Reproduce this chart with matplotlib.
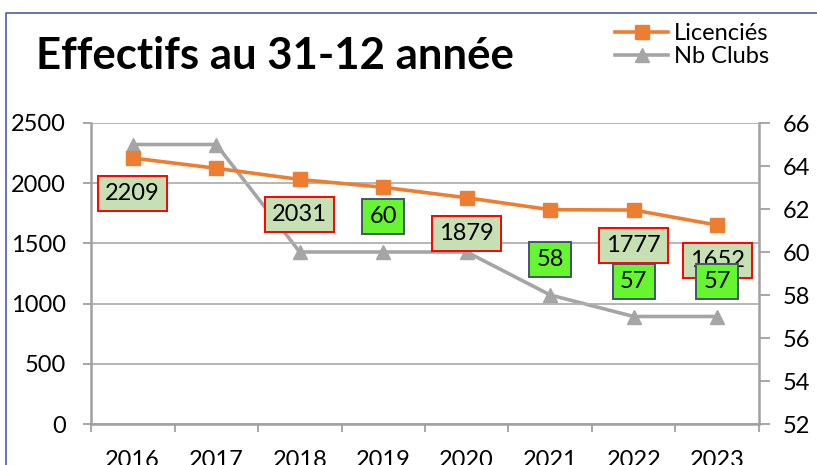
import matplotlib
matplotlib.use("Agg")
import matplotlib.pyplot as plt
from matplotlib.lines import Line2D
import numpy as np

years = ["2016", "2017", "2018", "2019", "2020", "2021", "2022", "2023"]
licencies = [2209, 2124, 2031, 1966, 1879, 1780, 1777, 1652]
clubs = [65, 65, 60, 60, 60, 58, 57, 57]
lic_label_idx = [0, 2, 4, 6, 7]
club_label_idx = [3, 5, 6, 7]
left_ticks = [0, 500, 1000, 1500, 2000, 2500]
right_ticks = [52, 54, 56, 58, 60, 62, 64, 66]

FONT = "Lato"
plt.rcParams["font.family"] = [FONT, "DejaVu Sans"]

ORANGE = "#ED7D31"
GRAY = "#A5A5A5"
AXC = "#A0A0A0"

W, H = 817, 465
fig = plt.figure(figsize=(W / 100, H / 100), dpi=100)
ax = fig.add_axes([91 / W, 1 - 424 / H, (759 - 91) / W, (424 - 123) / H])
ax2 = ax.twinx()
ax.set_zorder(ax2.get_zorder() + 1)
ax.patch.set_visible(False)

x = np.arange(len(years))
ax.set_xlim(-0.5, len(years) - 0.5)
ax.set_ylim(0, 2500)
ax2.set_ylim(52, 66)

ax.yaxis.grid(True, color="#B0B0B0", linewidth=1.3)
ax.set_axisbelow(True)

l2, = ax2.plot(x, clubs, color=GRAY, lw=2.6, marker="^", markersize=10,
               label="Nb Clubs", zorder=2)
l1, = ax.plot(x, licencies, color=ORANGE, lw=2.6, marker="s", markersize=9.5,
              label="Licenciés", zorder=3)

# ticks
ax.set_yticks(left_ticks)
ax2.set_yticks(right_ticks)
ax.set_xticks(np.arange(-0.5, len(years) + 0.5, 1))
ax.set_xticklabels([])
ax.set_xticks(x, minor=True)
ax.set_xticklabels(years, minor=True)
ax.tick_params(axis="x", which="major", length=6, width=1.3, color=AXC, direction="out")
ax.tick_params(axis="x", which="minor", length=0, pad=18.5, labelsize=17)
ax.tick_params(axis="y", length=6, width=1.3, color=AXC, labelsize=17, pad=12)
ax2.tick_params(axis="y", length=8, width=1.3, color=AXC, labelsize=17, pad=9.4)

for a in (ax, ax2):
    for s in a.spines.values():
        s.set_visible(False)
ax.spines["left"].set_visible(True)
ax.spines["bottom"].set_visible(True)
ax2.spines["right"].set_visible(True)
for s in (ax.spines["left"], ax.spines["bottom"], ax2.spines["right"]):
    s.set_color(AXC)
    s.set_linewidth(1.8)

# data labels
for i in lic_label_idx:
    ax.annotate(str(licencies[i]), xy=(x[i], licencies[i]), xytext=(0, -25.5),
                textcoords="offset points", ha="center", va="center", fontsize=17,
                bbox=dict(boxstyle="square,pad=0.3", fc="#C6E0B4", ec="#FF0000", lw=1.4),
                zorder=10)
for i in club_label_idx:
    ax.annotate(str(clubs[i]), xy=(x[i], clubs[i]), xycoords=ax2.transData,
                xytext=(0, 25.5), textcoords="offset points", ha="center", va="center",
                fontsize=17,
                bbox=dict(boxstyle="square,pad=0.3", fc="#66F62F", ec="#44546A", lw=1.4),
                zorder=11)

# title
fig.text(36 / W, 1 - 56 / H, "Effectifs au 31-12 année", fontsize=31.5, fontweight="bold",
         ha="left", va="center")

# legend
leg = fig.legend(handles=[l1, l2], loc="upper left", bbox_to_anchor=(615 / W, 1 - 23 / H),
                 frameon=False, fontsize=17, handlelength=2.25, handletextpad=0.25,
                 labelspacing=0.1, borderpad=0, borderaxespad=0)

# chart border
fig.add_artist(Line2D([6 / W, 6 / W, 1.0], [0, 1 - 13 / H, 1 - 13 / H],
                      transform=fig.transFigure, color="#4F5DA6", lw=1.2))

fig.savefig("out.png", dpi=100)
